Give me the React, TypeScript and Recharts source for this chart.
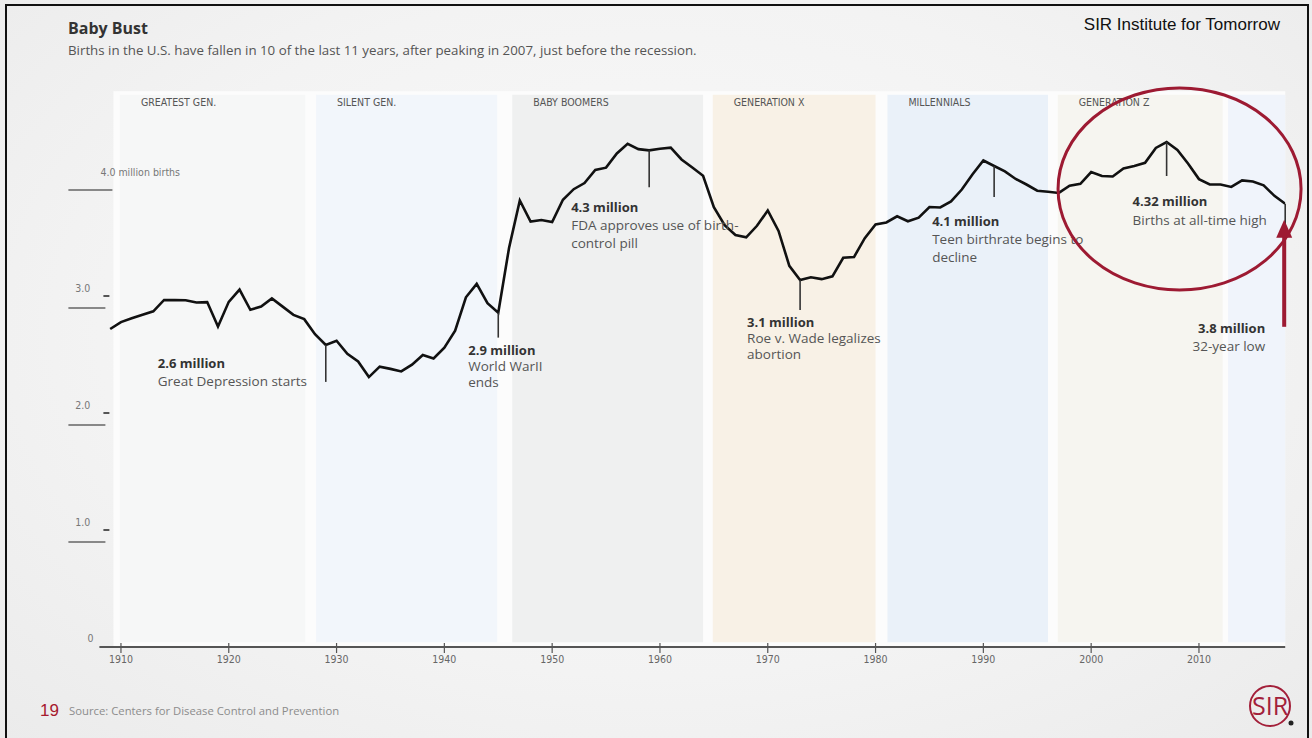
import React from 'react';
import { LineChart, Line, XAxis, YAxis, ReferenceArea, ReferenceDot } from 'recharts';

// U.S. births, millions (CDC)
const years = [
  1909, 1910, 1911, 1912, 1913, 1914, 1915, 1916, 1917, 1918,
  1919, 1920, 1921, 1922, 1923, 1924, 1925, 1926, 1927, 1928,
  1929, 1930, 1931, 1932, 1933, 1934, 1935, 1936, 1937, 1938,
  1939, 1940, 1941, 1942, 1943, 1944, 1945, 1946, 1947, 1948,
  1949, 1950, 1951, 1952, 1953, 1954, 1955, 1956, 1957, 1958,
  1959, 1960, 1961, 1962, 1963, 1964, 1965, 1966, 1967, 1968,
  1969, 1970, 1971, 1972, 1973, 1974, 1975, 1976, 1977, 1978,
  1979, 1980, 1981, 1982, 1983, 1984, 1985, 1986, 1987, 1988,
  1989, 1990, 1991, 1992, 1993, 1994, 1995, 1996, 1997, 1998,
  1999, 2000, 2001, 2002, 2003, 2004, 2005, 2006, 2007, 2008,
  2009, 2010, 2011, 2012, 2013, 2014, 2015, 2016, 2017, 2018,
];
const births = [
  2.718, 2.777, 2.809, 2.84, 2.869, 2.966, 2.965, 2.964, 2.944, 2.948,
  2.74, 2.95, 3.055, 2.882, 2.91, 2.979, 2.909, 2.839, 2.802, 2.674,
  2.582, 2.618, 2.506, 2.44, 2.307, 2.396, 2.377, 2.355, 2.413, 2.496,
  2.466, 2.559, 2.703, 2.989, 3.104, 2.939, 2.858, 3.411, 3.817, 3.637,
  3.649, 3.632, 3.823, 3.913, 3.965, 4.078, 4.097, 4.218, 4.3, 4.255,
  4.245, 4.258, 4.268, 4.167, 4.098, 4.027, 3.76, 3.606, 3.521, 3.502,
  3.6, 3.731, 3.556, 3.258, 3.137, 3.16, 3.144, 3.168, 3.327, 3.333,
  3.494, 3.612, 3.629, 3.681, 3.639, 3.669, 3.761, 3.757, 3.809, 3.91,
  4.041, 4.158, 4.111, 4.065, 4.0, 3.953, 3.9, 3.891, 3.881, 3.942,
  3.959, 4.059, 4.026, 4.022, 4.09, 4.112, 4.138, 4.266, 4.316, 4.248,
  4.131, 3.999, 3.954, 3.953, 3.932, 3.988, 3.978, 3.946, 3.856, 3.788,
];

const xTicks = [1910, 1920, 1930, 1940, 1950, 1960, 1970, 1980, 1990, 2000, 2010];
const yTicks = [0, 1, 2, 3, 4];
const yTickLabels = ['0', '1.0', '2.0', '3.0', '4.0 million births'];

// generation bands
const bandNames = ['GREATEST GEN.', 'SILENT GEN.', 'BABY BOOMERS', 'GENERATION X', 'MILLENNIALS', 'GENERATION Z', ''];
const bandStarts = [1909.9, 1928.1, 1946.3, 1964.9, 1981.1, 1996.9, 2012.7];
const bandEnds = [1927.1, 1944.9, 1964.0, 1980.0, 1996.0, 2012.2, 2018];

// annotations
const noteYears = [1929, 1945, 1959, 1973, 1991, 2007, 2018];
const noteHeads = ['2.6 million', '2.9 million', '4.3 million', '3.1 million', '4.1 million', '4.32 million', '3.8 million'];
const noteTexts = [
  ['Great Depression starts'],
  ['World WarII', 'ends'],
  ['FDA approves use of birth-', 'control pill'],
  ['Roe v. Wade legalizes', 'abortion'],
  ['Teen birthrate begins to', 'decline'],
  ['Births at all-time high'],
  ['32-year low'],
];

const data = years.map((year, i) => ({ year, births: births[i] }));

const bandFills = ['#f6f7f7', '#f2f6fb', '#eff0f0', '#f8f1e6', '#eaf1f9', '#f6f5f0', '#f0f4fb'];
const noteLayout = [
  { len: 37, dx: -168, dy: 23, gap: 18, anchor: 'start' },
  { len: 25, dx: -30, dy: 42, gap: 16, anchor: 'start' },
  { len: 37, dx: -78, dy: 62, gap: 18, anchor: 'start' },
  { len: 30, dx: -53, dy: 47, gap: 16, anchor: 'start' },
  { len: 31, dx: -62, dy: 60, gap: 18, anchor: 'start' },
  { len: 34, dx: -34, dy: 64, gap: 19, anchor: 'start' },
  { len: 21, dx: -20, dy: 129, gap: 18, anchor: 'end' },
];

const NARROW = '"Liberation Sans Narrow", "DejaVu Sans Condensed", "Roboto Condensed", sans-serif';
const SANS = '"Open Sans", "Noto Sans", sans-serif';
const RED = '#9d1a32';

const XTick = (props: any) => {
  const { x, y, payload } = props;
  return (
    <g>
      <line x1={x} y1={y - 4} x2={x} y2={y + 6} stroke="#555" strokeWidth={1.2} />
      <text x={x} y={y + 16} textAnchor="middle" fontSize={10.5} fill="#666" fontFamily={NARROW}>
        {payload.value}
      </text>
    </g>
  );
};

const YTick = (props: any) => {
  const { x, y, payload } = props;
  const v = payload.value;
  const label = yTickLabels[yTicks.indexOf(v)];
  if (v === 0) {
    return (
      <text x={x - 6} y={y - 5} textAnchor="end" fontSize={10.5} fill="#777" fontFamily={NARROW}>
        {label}
      </text>
    );
  }
  if (v === 4) {
    return (
      <g>
        <text x={x + 1} y={y - 3} fontSize={10.5} fill="#777" fontFamily={NARROW}>
          {label}
        </text>
        <line x1={x - 31} y1={y + 11} x2={x + 13} y2={y + 11} stroke="#888" strokeWidth={2} />
      </g>
    );
  }
  return (
    <g>
      <text x={x - 9} y={y - 4} textAnchor="end" fontSize={10.5} fill="#777" fontFamily={NARROW}>
        {label}
      </text>
      <line x1={x + 4} y1={y} x2={x + 10} y2={y} stroke="#555" strokeWidth={2} />
      <line x1={x - 31} y1={y + 12} x2={x + 6} y2={y + 12} stroke="#888" strokeWidth={2} />
    </g>
  );
};

const BandLabel = (props: any) => {
  const vb = props.viewBox || {};
  return (
    <text x={vb.x + 21} y={vb.y + 11} fontSize={10.5} fill="#555" fontFamily={NARROW}>
      {props.name}
    </text>
  );
};

const NoteMark = (props: any) => {
  const { cx, cy, i } = props;
  const lay = noteLayout[i];
  const tx = cx + lay.dx;
  return (
    <g>
      <line x1={cx} y1={cy} x2={cx} y2={cy + lay.len} stroke="#333" strokeWidth={1.6} />
      <text x={tx} y={cy + lay.dy} textAnchor={lay.anchor} fontSize={13} fontWeight={700} fill="#333" fontFamily={SANS}>
        {noteHeads[i]}
      </text>
      {noteTexts[i].map((t, k) => (
        <text key={k} x={tx} y={cy + lay.dy + lay.gap * (k + 1)} textAnchor={lay.anchor} fontSize={13.5} fill="#555" fontFamily={SANS}>
          {t}
        </text>
      ))}
    </g>
  );
};

const Ellipse = (props: any) => (
  <ellipse cx={props.cx} cy={props.cy} rx={121.5} ry={101} fill="none" stroke={RED} strokeWidth={3} />
);

const Arrow = (props: any) => {
  const { cx, cy } = props;
  return (
    <g>
      <line x1={cx - 1} y1={cy + 123} x2={cx - 1} y2={cy + 30} stroke={RED} strokeWidth={4} />
      <polygon points={`${cx - 1},${cy + 16} ${cx - 9},${cy + 34} ${cx + 7},${cy + 34}`} fill={RED} />
    </g>
  );
};

export default function App() {
  return (
    <div
      style={{
        position: 'absolute',
        left: 0,
        top: 0,
        width: 1312,
        height: 738,
        overflow: 'hidden',
        background: 'radial-gradient(ellipse at 50% 45%, #fafafa 0%, #f3f3f3 60%, #ebebeb 100%)',
      }}
    >
      {/* slide frame */}
      <div style={{ position: 'absolute', left: 5, top: 4, width: 1304, height: 760, border: '2.5px solid #111', boxSizing: 'border-box' }} />

      <div style={{ position: 'absolute', left: 68, top: 18, fontFamily: SANS, fontWeight: 700, fontSize: 16, color: '#333', lineHeight: '20px' }}>
        Baby Bust
      </div>
      <div style={{ position: 'absolute', left: 68, top: 41, fontFamily: SANS, fontSize: 13.3, color: '#555', lineHeight: '18px' }}>
        Births in the U.S. have fallen in 10 of the last 11 years, after peaking in 2007, just before the recession.
      </div>
      <div style={{ position: 'absolute', right: 32, top: 14, fontFamily: '"Liberation Sans", Arial, sans-serif', fontSize: 17, color: '#111', lineHeight: '22px' }}>
        SIR Institute for Tomorrow
      </div>

      <div style={{ position: 'absolute', left: 0, top: 0 }}>
        <LineChart width={1312} height={738} data={data} margin={{ top: 91.25, right: 26.8, bottom: 61, left: 39.4 }}>
          <XAxis
            dataKey="year"
            type="number"
            domain={[1908, 2018]}
            ticks={xTicks}
            allowDataOverflow
            axisLine={{ stroke: '#555', strokeWidth: 2 }}
            tickLine={false}
            tickSize={0}
            tickMargin={0}
            height={30}
            tick={<XTick />}
          />
          <YAxis
            type="number"
            domain={[0, 4.75]}
            ticks={yTicks}
            allowDataOverflow
            axisLine={false}
            tickLine={false}
            tickSize={0}
            tickMargin={0}
            width={60}
            tick={<YTick />}
          />
          <ReferenceArea x1={1909.3} x2={2018} y1={0} y2={4.75} fill="#fcfcfc" fillOpacity={1} stroke="none" />
          {bandNames.map((name, i) => (
            <ReferenceArea
              key={i}
              x1={bandStarts[i]}
              x2={bandEnds[i]}
              y1={0.04}
              y2={4.72}
              fill={bandFills[i]}
              fillOpacity={1}
              stroke="none"
              label={<BandLabel name={name} />}
            />
          ))}
          {noteYears.map((yr, i) => (
            <ReferenceDot
              key={yr}
              x={yr}
              y={births[years.indexOf(yr)]}
              r={0}
              ifOverflow="visible"
              shape={(p: any) => <NoteMark cx={p.cx} cy={p.cy} i={i} />}
            />
          ))}
          <Line
            type="linear"
            dataKey="births"
            stroke="#111"
            strokeWidth={2.6}
            dot={false}
            isAnimationActive={false}
          />
          <ReferenceDot x={2008.2} y={3.915} r={0} ifOverflow="visible" shape={(p: any) => <Ellipse cx={p.cx} cy={p.cy} />} />
          <ReferenceDot x={2018} y={births[births.length - 1]} r={0} ifOverflow="visible" shape={(p: any) => <Arrow cx={p.cx} cy={p.cy} />} />
        </LineChart>
      </div>

      {/* footer */}
      <div style={{ position: 'absolute', left: 40, top: 701, fontFamily: '"Liberation Sans", Arial, sans-serif', fontSize: 17, color: '#a6192e', lineHeight: '20px' }}>
        19
      </div>
      <div style={{ position: 'absolute', left: 69, top: 703, fontFamily: SANS, fontSize: 11.3, color: '#8c8c8c', lineHeight: '16px' }}>
        Source: Centers for Disease Control and Prevention
      </div>
      <svg style={{ position: 'absolute', left: 1240, top: 680 }} width={64} height={56}>
        <circle cx={30} cy={26} r={20} fill="none" stroke="#a3203a" strokeWidth={2} />
        <text x={30} y={35} textAnchor="middle" fontSize={25} fill="#a3203a" fontFamily={SANS}>
          SIR
        </text>
        <circle cx={51} cy={43} r={2.5} fill="#222" />
      </svg>
    </div>
  );
}
